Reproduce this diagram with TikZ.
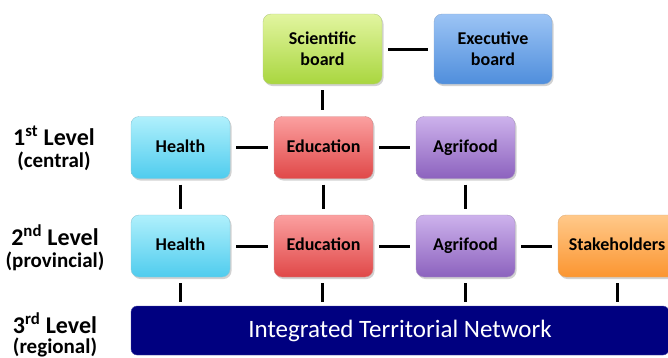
\documentclass[tikz,border=0pt]{standalone}
\usepackage{fontspec}
\setmainfont{Carlito}
\usetikzlibrary{shadows}
\definecolor{grnT}{HTML}{E2F5A0}\definecolor{grnB}{HTML}{A9D63F}
\definecolor{bluT}{HTML}{9CC4F5}\definecolor{bluB}{HTML}{4F8EDC}
\definecolor{cyaT}{HTML}{B0F0FC}\definecolor{cyaB}{HTML}{4FCCEE}
\definecolor{redT}{HTML}{FBA0A0}\definecolor{redB}{HTML}{E04848}
\definecolor{purT}{HTML}{CDB2EC}\definecolor{purB}{HTML}{8C62BE}
\definecolor{oraT}{HTML}{FFC98A}\definecolor{oraB}{HTML}{FB9530}
\definecolor{navy}{HTML}{000080}
\tikzset{
  box/.style={rounded corners=8pt, minimum width=99pt, minimum height=62pt,
    inner sep=2pt, align=center, font=\fontsize{18}{21}\selectfont\bfseries,
    drop shadow={shadow xshift=1.5pt, shadow yshift=-2pt, opacity=0.35}},
  one/.style={text height=13pt, text depth=4pt},
  grn/.style={box, top color=grnT, bottom color=grnB, draw=grnB!80!black!60},
  blu/.style={box, top color=bluT, bottom color=bluB, draw=bluB!80!black!60},
  cya/.style={box, one, top color=cyaT, bottom color=cyaB, draw=cyaB!80!black!60},
  rdd/.style={box, one, top color=redT, bottom color=redB, draw=redB!80!black!60},
  pur/.style={box, one, top color=purT, bottom color=purB, draw=purB!80!black!60},
  ora/.style={box, one, top color=oraT, bottom color=oraB, draw=oraB!80!black!60},
  link/.style={line width=3pt, black, shorten <=6pt, shorten >=6pt},
  lvl/.style={align=center, font=\fontsize{24}{28}\selectfont\bfseries},
  lvlsub/.style={font=\fontsize{21}{24}\selectfont\bfseries}
}
\begin{document}
\begin{tikzpicture}[x=1pt,y=-1pt]
\clip (0,0) rectangle (668,357);
\fill[white] (0,0) rectangle (668,357);
% top
\node[grn, minimum width=119pt, minimum height=70pt] (sci) at (322.5,49) {Scientific\\board};
\node[blu, minimum width=118pt, minimum height=70pt] (exe) at (493,49) {Executive\\board};
% row 1
\node[cya] (h1) at (180.5,147.5) {Health};
\node[rdd] (e1) at (323.5,147.5) {Education};
\node[pur] (a1) at (465.5,147.5) {Agrifood};
% row 2
\node[cya] (h2) at (180.5,246) {Health};
\node[rdd] (e2) at (323.5,246) {Education};
\node[pur] (a2) at (465.5,246) {Agrifood};
\node[ora, minimum width=118pt] (s2) at (617,246) {Stakeholders};
% bar
\node[fill=navy, draw=navy!70, rounded corners=6pt, minimum width=538pt, minimum height=49pt,
      text=white, font=\fontsize{25}{29}\selectfont, inner sep=0pt] (net) at (400,330.5) {Integrated Territorial Network};
\coordinate (nh) at (180.5,306);
\coordinate (ne) at (322.5,306);
\coordinate (na) at (465.5,306);
\coordinate (ns) at (617,306);
% connectors
\draw[link] (sci) -- (exe);
\draw[link] (sci.south) -- (sci.south |- e1.north);
\draw[link] (h1) -- (e1);
\draw[link] (e1) -- (a1);
\draw[link] (h2) -- (e2);
\draw[link] (e2) -- (a2);
\draw[link] (a2) -- (s2);
\draw[link] (h1) -- (h2);
\draw[link] (e1) -- (e2);
\draw[link] (a1) -- (a2);
\draw[link, shorten >=4pt] (h2) -- (nh);
\draw[link, shorten >=4pt] (e2.south -| ne) -- (ne);
\draw[link, shorten >=4pt] (a2) -- (na);
\draw[link, shorten >=4pt] (s2) -- (ns);
% level labels
\node[lvl] (l1) at (54,136) {1\textsuperscript{st} Level};
\node[lvlsub] (l1s) at (54,161) {(central)};
\node[lvl] (l2) at (55,235) {2\textsuperscript{nd} Level};
\node[lvlsub] (l2s) at (55,261) {(provincial)};
\node[lvl] (l3) at (55,323) {3\textsuperscript{rd} Level};
\node[lvlsub] (l3s) at (55,347) {(regional)};
\end{tikzpicture}
\end{document}
